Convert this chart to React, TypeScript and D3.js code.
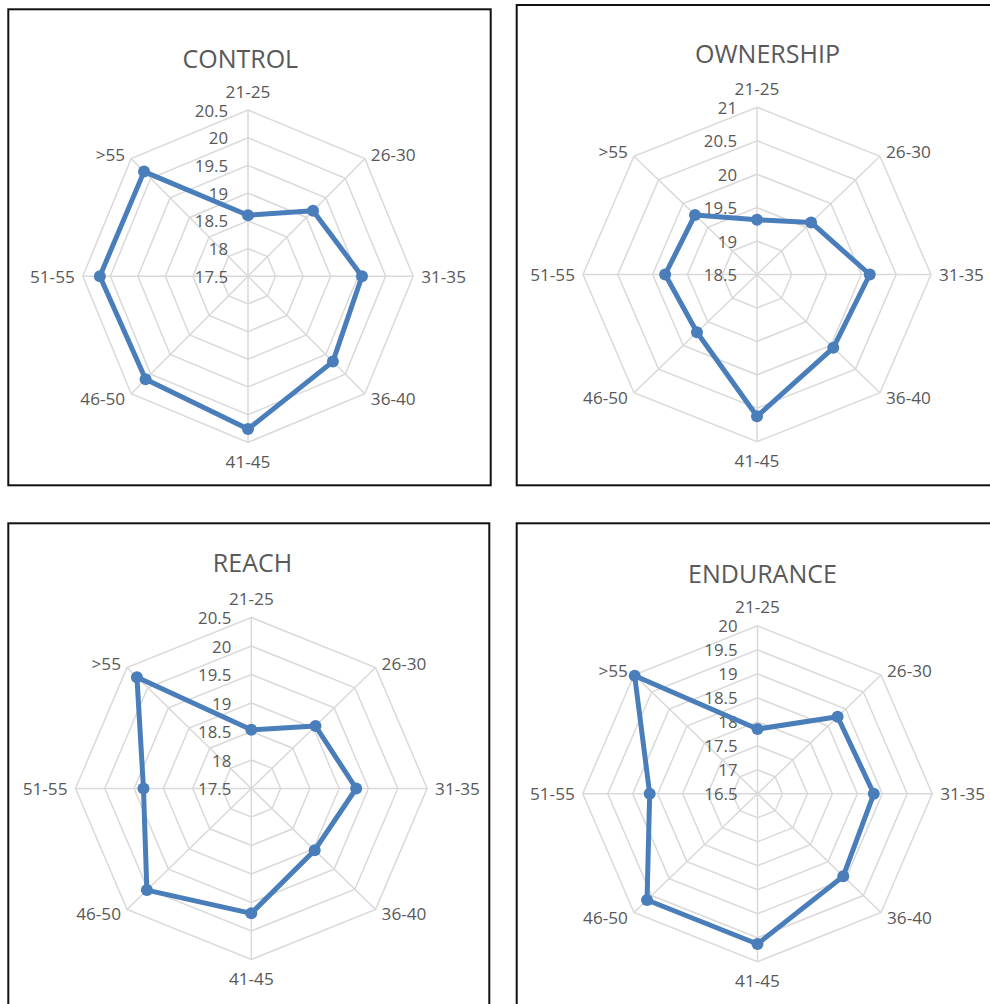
import React from 'react';
import * as d3 from 'd3';

// Age bands shared by every radar
const categories = ['21-25', '26-30', '31-35', '36-40', '41-45', '46-50', '51-55', '>55'];

// Mean score per age band
const controlValues = [18.6, 19.17, 19.57, 19.68, 20.26, 20.13, 20.19, 20.17];
const ownershipValues = [19.32, 19.6, 20.12, 20.05, 20.62, 19.72, 19.82, 19.76];
const reachValues = [18.53, 19.05, 19.29, 19.03, 19.69, 20.02, 19.34, 20.26];
const enduranceValues = [17.85, 18.77, 18.83, 18.93, 19.63, 19.63, 18.66, 19.98];

// Radial axis ticks (first = centre, last = outer ring)
const controlTicks = [17.5, 18, 18.5, 19, 19.5, 20, 20.5];
const ownershipTicks = [18.5, 19, 19.5, 20, 20.5, 21];
const reachTicks = [17.5, 18, 18.5, 19, 19.5, 20, 20.5];
const enduranceTicks = [16.5, 17, 17.5, 18, 18.5, 19, 19.5, 20];

const titles = ['CONTROL', 'OWNERSHIP', 'REACH', 'ENDURANCE'];

// Placement of each chart box on the page
const layouts = [
  { frame: [8.3, 9.3, 482.4, 476], cx: 248, cy: 276.2, rx: 165.2, ry: 166.2, titleX: 240.3, titleY: 58.3 },
  { frame: [516.7, 5, 500, 480.3], cx: 757, cy: 274.5, rx: 174, ry: 167.2, titleX: 767.5, titleY: 53.3 },
  { frame: [8.3, 523.3, 481, 500], cx: 251.3, cy: 788.5, rx: 175.8, ry: 171, titleX: 252.5, titleY: 561.7 },
  { frame: [516.7, 523.3, 500, 500], cx: 757.5, cy: 793.8, rx: 174.7, ry: 167.9, titleX: 762.5, titleY: 572.7 },
];

const FONT = '"Open Sans", "DejaVu Sans", sans-serif';
const TEXT = '#595959';
const GRID = '#d9d9d9';
const SERIES = '#4a7ebb';

type Layout = typeof layouts[number];

function Radar({ title, values, ticks, layout }: { title: string; values: number[]; ticks: number[]; layout: Layout }) {
  const { cx, cy, rx, ry, frame, titleX, titleY } = layout;
  const radius = d3.scaleLinear().domain([ticks[0], ticks[ticks.length - 1]]).range([0, 1]);
  const angle = d3.scaleLinear().domain([0, categories.length]).range([0, 2 * Math.PI]);

  const pt = (i: number, v: number): [number, number] => {
    const a = angle(i);
    const t = radius(v);
    return [cx + t * rx * Math.sin(a), cy - t * ry * Math.cos(a)];
  };

  const ring = d3.line<[number, number]>().curve(d3.curveLinearClosed);
  const outer = ticks[ticks.length - 1];

  const seriesPts = values.map((v, i) => pt(i, v));

  return (
    <g>
      <rect x={frame[0]} y={frame[1]} width={frame[2]} height={frame[3]} fill="#fff" stroke="#111" strokeWidth={2} />
      {/* spokes */}
      {categories.map((c, i) => {
        const [x, y] = pt(i, outer);
        return <line key={'s' + c} x1={cx} y1={cy} x2={x} y2={y} stroke={GRID} strokeWidth={1.5} />;
      })}
      {/* rings */}
      {ticks.slice(1).map((t) => (
        <path key={'r' + t} d={ring(categories.map((_, i) => pt(i, t))) || ''} fill="none" stroke={GRID} strokeWidth={1.5} />
      ))}
      {/* tick labels */}
      {ticks.map((t) => (
        <text key={'t' + t} x={cx - 20} y={cy - radius(t) * ry} textAnchor="end" dominantBaseline="central"
          fontFamily={FONT} fontSize={16.8} fill={TEXT}>{String(t)}</text>
      ))}
      {/* series */}
      <path d={ring(seriesPts) || ''} fill="none" stroke={SERIES} strokeWidth={5} strokeLinejoin="round" />
      {seriesPts.map(([x, y], i) => (
        <circle key={'m' + i} cx={x} cy={y} r={6} fill={SERIES} />
      ))}
      {/* category labels */}
      {categories.map((c, i) => {
        const a = angle(i);
        const s = Math.sin(a);
        const co = Math.cos(a);
        let [x, y] = pt(i, outer);
        let anchor = 'middle';
        if (Math.abs(s) < 0.01) {
          y -= Math.sign(co) * 19;
        } else if (Math.abs(co) < 0.01) {
          x += Math.sign(s) * 8;
          anchor = s > 0 ? 'start' : 'end';
        } else {
          x += Math.sign(s) * 6;
          y -= Math.sign(co) * 4.5;
          anchor = s > 0 ? 'start' : 'end';
        }
        return (
          <text key={'c' + c} x={x} y={y} textAnchor={anchor} dominantBaseline="central"
            fontFamily={FONT} fontSize={17.2} fill={TEXT}>{c}</text>
        );
      })}
      <text x={titleX} y={titleY} textAnchor="middle" dominantBaseline="central" fontFamily={FONT} fontSize={25} fill={TEXT}>
        {title}
      </text>
    </g>
  );
}

export default function App() {
  const series = [controlValues, ownershipValues, reachValues, enduranceValues];
  const tickSets = [controlTicks, ownershipTicks, reachTicks, enduranceTicks];
  return (
    <svg width={990} height={1004} style={{ position: 'absolute', left: 0, top: 0, background: '#fff' }}>
      <rect x={0} y={0} width={990} height={1004} fill="#fff" />
      {titles.map((t, k) => (
        <Radar key={t} title={t} values={series[k]} ticks={tickSets[k]} layout={layouts[k]} />
      ))}
    </svg>
  );
}
